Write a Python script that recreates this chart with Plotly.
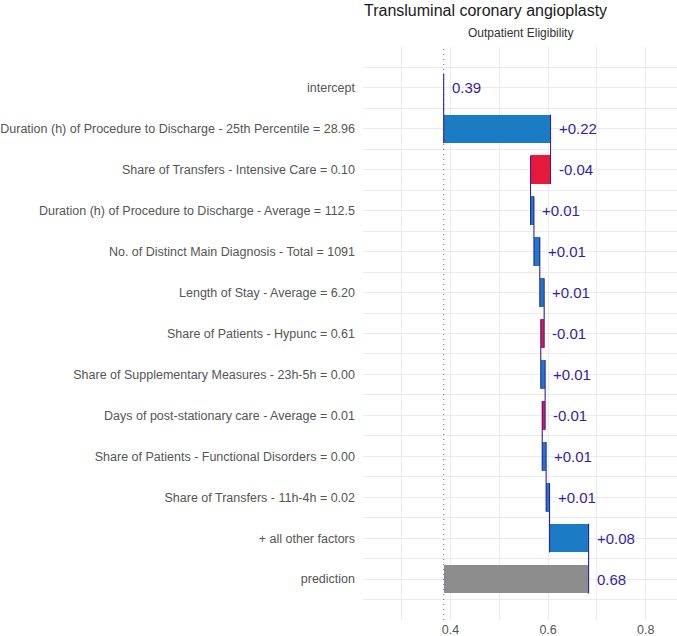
import plotly.graph_objects as go

# ---- data ----
variables = [
    "intercept",
    "Duration (h) of Procedure to Discharge - 25th Percentile = 28.96",
    "Share of Transfers - Intensive Care = 0.10",
    "Duration (h) of Procedure to Discharge - Average = 112.5",
    "No. of Distinct Main Diagnosis - Total = 1091",
    "Length of Stay - Average = 6.20",
    "Share of Patients - Hypunc = 0.61",
    "Share of Supplementary Measures - 23h-5h = 0.00",
    "Days of post-stationary care - Average = 0.01",
    "Share of Patients - Functional Disorders = 0.00",
    "Share of Transfers - 11h-4h = 0.02",
    "+ all other factors",
    "prediction",
]
intercept = 0.386
contributions = [0.219, -0.041, 0.007, 0.012, 0.009, -0.007, 0.009, -0.006, 0.008, 0.007, 0.080]
x_ticks = [0.4, 0.6, 0.8]

title = "Transluminal coronary angioplasty"
subtitle = "Outpatient Eligibility"

# ---- styles ----
POS = "#1b7bc4"
NEG = "#e6193a"
PRED = "#8c8c8c"
LINE = "#371ea3"
GRID = "#ebebeb"
FONT = "Liberation Sans, Arial, sans-serif"

# ---- derived ----
n = len(variables)
idx = list(range(n))
starts, ends = [intercept], [intercept]
cum = intercept
for c in contributions:
    starts.append(cum)
    cum = cum + c
    ends.append(cum)
prediction = cum
starts.append(intercept)
ends.append(prediction)

colors = [LINE] + [POS if c >= 0 else NEG for c in contributions] + [PRED]
labels = [f"{intercept:.2f}"] + [f"{c:+.2f}" for c in contributions] + [f"{prediction:.2f}"]

fig = go.Figure()

bar_len = [e - s for s, e in zip(starts, ends)]
fig.add_trace(go.Bar(
    y=idx, x=bar_len, base=starts, orientation="h", width=0.7,
    marker=dict(color=colors, line=dict(width=0)),
    hoverinfo="skip", showlegend=False,
))

# connectors (vertical segments at cumulative value)
cx, cy = [], []
for i in range(n - 1):
    v = ends[i]
    cx += [v, v, None]
    cy += [i - 0.35, i + 1 + 0.35, None]
fig.add_trace(go.Scatter(x=cx, y=cy, mode="lines", line=dict(color=LINE, width=1.1),
                         hoverinfo="skip", showlegend=False))

# dotted intercept line
fig.add_vline(x=intercept, line=dict(color=LINE, width=1.3, dash="1px,4px"), opacity=0.55)

# value labels
for i in range(n):
    fig.add_annotation(x=max(starts[i], ends[i]), y=i, text=labels[i], showarrow=False,
                       xanchor="left", yanchor="middle", xshift=6,
                       font=dict(family=FONT, size=15, color=LINE))

fig.add_annotation(x=0.5, xref="paper", y=1, yref="paper", yanchor="bottom", yshift=5,
                   text=subtitle, showarrow=False,
                   font=dict(family=FONT, size=12, color="#333333"))

fig.update_layout(
    width=677, height=636,
    margin=dict(l=363, r=0, t=47, b=16, autoexpand=False),
    plot_bgcolor="white", paper_bgcolor="white",
    title=dict(text=title, x=364 / 677, xanchor="left", y=1 - 10 / 636, yanchor="middle",
               font=dict(family=FONT, size=16, color="#1a1a1a")),
    xaxis=dict(range=[0.2207, 0.8642], tickmode="array", tickvals=x_ticks,
               ticktext=[f"{t:.1f}" for t in x_ticks], automargin=False,
               showgrid=True, gridcolor=GRID, gridwidth=1.1, zeroline=False,
               showline=False, ticks="", ticklabelstandoff=0,
               tickfont=dict(family=FONT, size=12.5, color="#555555"),
               minor=dict(tickmode="linear", tick0=0.3, dtick=0.1, showgrid=True,
                          gridcolor=GRID, gridwidth=0.8)),
    yaxis=dict(range=[n, -1], tickmode="array", tickvals=idx, ticktext=variables,
               automargin=False,
               showgrid=True, gridcolor=GRID, gridwidth=1.1, zeroline=False,
               showline=False, ticks="", ticklabelstandoff=7,
               tickfont=dict(family=FONT, size=12.5, color="#555555"),
               minor=dict(tickmode="linear", tick0=0.5, dtick=1, showgrid=True,
                          gridcolor=GRID, gridwidth=0.8)),
    bargap=0,
)

fig.write_html("out.html")
